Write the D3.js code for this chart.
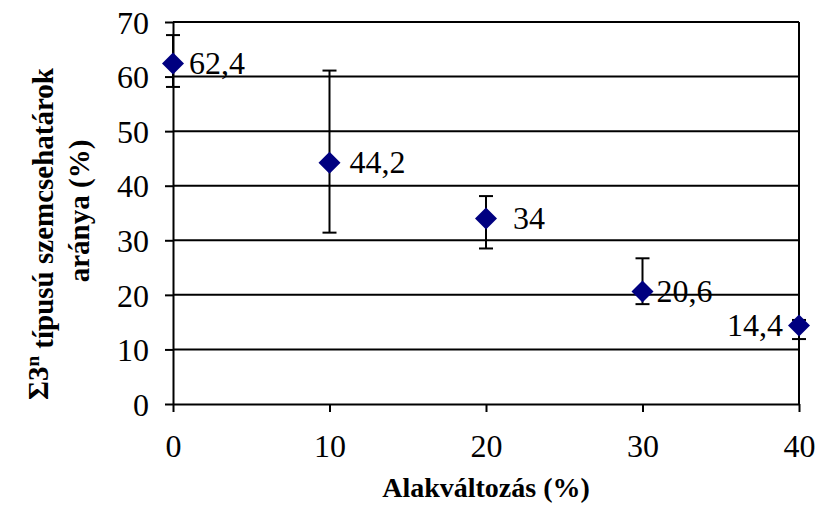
<!DOCTYPE html>
<html>
<head>
<meta charset="utf-8">
<script src="https://cdn.jsdelivr.net/npm/d3@7"></script>
<style>
  body { margin: 0; background: #fff; }
  text { font-family: "Liberation Serif", "Times New Roman", serif; }
</style>
</head>
<body>
<script>
// deformation (%) and share of sigma-3n boundaries (%)
var strain = [0, 10, 20, 30, 40];
var share = [62.4, 44.2, 34, 20.6, 14.4];
var errHigh = [67.6, 61.1, 38.1, 26.7, 15.4];
var errLow = [58.1, 31.4, 28.5, 18.3, 11.9];
var labels = ["62,4", "44,2", "34", "20,6", "14,4"];
var xTicks = [0, 10, 20, 30, 40];
var yTicks = [0, 10, 20, 30, 40, 50, 60, 70];

var width = 815, height = 505;
var margin = {top: 22, right: 16, bottom: 101, left: 173};

var svg = d3.select("body")
            .append("svg")
            .attr("width", width)
            .attr("height", height);

var xScale = d3.scaleLinear()
               .domain([0, 40])
               .range([margin.left, width - margin.right]);

var yScale = d3.scaleLinear()
               .domain([0, 70])
               .range([height - margin.bottom, margin.top]);

// gridlines
svg.append("g")
   .selectAll("line")
   .data(yTicks.slice(1))
   .enter()
   .append("line")
   .attr("x1", xScale(0))
   .attr("x2", xScale(40))
   .attr("y1", function(d){ return yScale(d); })
   .attr("y2", function(d){ return yScale(d); })
   .attr("stroke", "#000")
   .attr("stroke-width", 2);

// right border of the plot area
svg.append("line")
   .attr("x1", xScale(40)).attr("x2", xScale(40))
   .attr("y1", yScale(70)).attr("y2", yScale(0))
   .attr("stroke", "#000")
   .attr("stroke-width", 2);

var xAxis = svg.append("g")
   .attr("transform", "translate(0," + yScale(0) + ")")
   .call(d3.axisBottom(xScale).tickValues(xTicks).tickSize(8).tickPadding(22).tickSizeOuter(0));

var yAxis = svg.append("g")
   .attr("transform", "translate(" + xScale(0) + ",0)")
   .call(d3.axisLeft(yScale).tickValues(yTicks).tickSize(8).tickPadding(16).tickSizeOuter(0));

[xAxis, yAxis].forEach(function(a){
  a.selectAll("path, line").attr("stroke", "#000").attr("stroke-width", 2);
  a.selectAll("text")
   .attr("fill", "#000")
   .style("font-family", "'Liberation Serif', serif")
   .style("font-size", "32px");
});
yAxis.selectAll("text").attr("dy", "0.35em");

// error bars
var capW = 7;
var err = svg.append("g");
strain.forEach(function(d, i){
  var x = xScale(d);
  err.append("line")
     .attr("x1", x).attr("x2", x)
     .attr("y1", yScale(errHigh[i])).attr("y2", yScale(errLow[i]))
     .attr("stroke", "#000").attr("stroke-width", 2);
  [errHigh[i], errLow[i]].forEach(function(v){
    err.append("line")
       .attr("x1", x - capW).attr("x2", x + capW)
       .attr("y1", yScale(v)).attr("y2", yScale(v))
       .attr("stroke", "#000").attr("stroke-width", 2);
  });
});

// diamonds
var r = 11;
svg.selectAll(".pt")
   .data(share)
   .enter()
   .append("path")
   .attr("class", "pt")
   .attr("d", function(d, i){
     var x = xScale(strain[i]), y = yScale(d);
     return "M" + x + "," + (y - r) + "L" + (x + r) + "," + y + "L" + x + "," + (y + r) + "L" + (x - r) + "," + y + "Z";
   })
   .attr("fill", "#000080");

// data labels
var labelDx = [16, 20, 27, 14, -16];
svg.selectAll(".lbl")
   .data(share)
   .enter()
   .append("text")
   .attr("class", "lbl")
   .attr("x", function(d, i){ return xScale(strain[i]) + labelDx[i]; })
   .attr("y", function(d){ return yScale(d); })
   .attr("dy", "0.33em")
   .attr("text-anchor", function(d, i){ return labelDx[i] < 0 ? "end" : "start"; })
   .style("font-size", "32px")
   .text(function(d, i){ return labels[i]; });

// axis titles
svg.append("text")
   .attr("x", (xScale(0) + xScale(40)) / 2)
   .attr("y", 497)
   .attr("text-anchor", "middle")
   .style("font-size", "28px")
   .style("font-weight", "bold")
   .text("Alakváltozás (%)");

var t1 = svg.append("text")
   .attr("transform", "translate(48,234) rotate(-90)")
   .attr("text-anchor", "middle")
   .style("font-size", "29px")
   .style("font-weight", "bold");
t1.append("tspan").text("Σ3");
t1.append("tspan").attr("dy", "-0.45em").style("font-size", "19px").text("n");
t1.append("tspan").attr("dy", "0.45em").text(" típusú szemcsehatárok");

svg.append("text")
   .attr("transform", "translate(89,211) rotate(-90)")
   .attr("text-anchor", "middle")
   .style("font-size", "29px")
   .style("font-weight", "bold")
   .text("aránya (%)");
</script>
</body>
</html>
